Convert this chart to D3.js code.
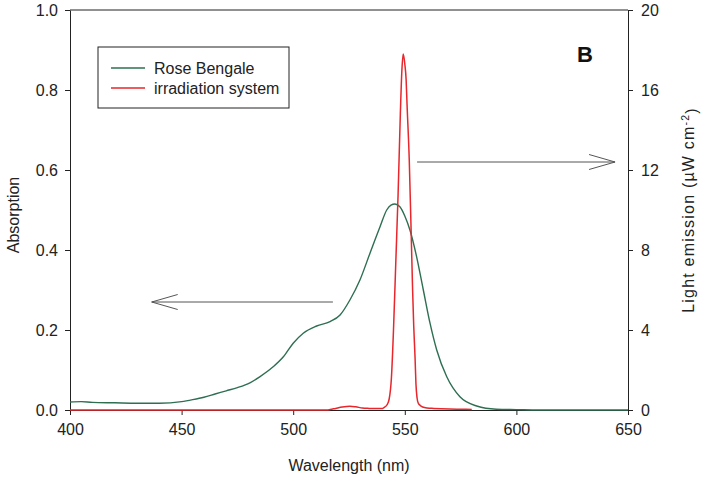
<!DOCTYPE html>
<html>
<head>
<meta charset="utf-8">
<script src="https://cdn.jsdelivr.net/npm/d3@7/dist/d3.min.js"></script>
<style>
  html, body { margin: 0; padding: 0; background: #ffffff; }
  svg { display: block; font-family: "Liberation Sans", Arial, sans-serif; }
</style>
</head>
<body>
<svg id="chart" width="703" height="480"></svg>
<script>
// ---- Data ----
const xTicks = [400, 450, 500, 550, 600, 650];
const leftTicks = [0, 0.2, 0.4, 0.6, 0.8, 1.0];
const rightTicks = [0, 4, 8, 12, 16, 20];

// Rose Bengale absorption (left axis)
const roseWl  = [400, 405, 410, 420, 430, 440, 450, 455, 460, 465, 470, 475, 480.6, 485, 491, 495.6, 500, 504.5, 510.5, 516.5, 521, 525.4, 529.9, 534.4, 538.9, 541.9, 543.8, 545.6, 547.8, 550, 552.3, 555.3, 558.3, 561.3, 564.3, 568.8, 574.7, 582.2, 591, 600, 610, 620, 630, 640, 650];
const roseAbs = [0.020, 0.021, 0.019, 0.018, 0.017, 0.017, 0.021, 0.026, 0.032, 0.040, 0.048, 0.056, 0.068, 0.083, 0.108, 0.133, 0.167, 0.192, 0.210, 0.221, 0.2375, 0.275, 0.325, 0.392, 0.458, 0.500, 0.512, 0.515, 0.508, 0.485, 0.450, 0.383, 0.300, 0.217, 0.150, 0.083, 0.033, 0.010, 0.002, 0.001, 0.000, 0.000, 0.000, 0.000, 0.000];

// Irradiation system emission (right axis, µW cm-2)
const lampWl  = [400, 450, 500, 515, 516.5, 519, 522, 525.4, 528, 531, 534, 537, 539, 540, 541, 542, 543, 544, 545, 546, 547, 548, 548.7, 549.3, 550, 550.6, 551, 552, 553, 553.5, 554, 554.6, 555, 555.5, 556, 557, 558, 560, 563, 570, 575, 580];
const lampEm  = [0, 0, 0, 0, 0.02, 0.08, 0.15, 0.19, 0.16, 0.10, 0.08, 0.07, 0.07, 0.08, 0.15, 0.25, 0.55, 1.6, 4.2, 7.5, 10.8, 14.8, 17.0, 17.8, 17.3, 16.5, 15.3, 12.5, 8.2, 6.0, 4.2, 2.6, 1.3, 0.6, 0.35, 0.22, 0.15, 0.10, 0.08, 0.05, 0.04, 0.03];

const seriesNames = ["Rose Bengale", "irradiation system"];
const seriesColors = ["#2e6f52", "#e8262b"];

// Annotation arrows (data coordinates)
const leftArrow  = { from: 517.8, to: 436.6, value: 0.27 };   // on absorption axis
const rightArrow = { from: 555.5, to: 644.2, value: 12.4 };   // on emission axis

// ---- Layout ----
const margin = { left: 70, right: 75, top: 10, bottom: 70 };
const W = 703, H = 480;
const svg = d3.select("#chart");

const x = d3.scaleLinear().domain([400, 650]).range([margin.left, W - margin.right]);
const yL = d3.scaleLinear().domain([0, 1]).range([H - margin.bottom, margin.top]);
const yR = d3.scaleLinear().domain([0, 20]).range([H - margin.bottom, margin.top]);

const axisColor = "#222";
const fontSize = "16px";

// Frame (top line)
svg.append("line")
  .attr("x1", x(400)).attr("x2", x(650))
  .attr("y1", yL(1)).attr("y2", yL(1))
  .attr("stroke", axisColor).attr("stroke-width", 1);

// Axes
function styleAxis(g) {
  g.select(".domain").attr("stroke", axisColor).attr("stroke-width", 1);
  g.selectAll(".tick line").attr("stroke", axisColor);
  g.selectAll(".tick text").attr("fill", "#222").style("font-size", fontSize)
    .style("font-family", '"Liberation Sans", Arial, sans-serif');
}

const gx = svg.append("g")
  .attr("transform", `translate(0,${yL(0)})`)
  .call(d3.axisBottom(x).tickValues(xTicks).tickSize(5).tickPadding(9).tickSizeOuter(0).tickFormat(d3.format("d")));
styleAxis(gx);

const gl = svg.append("g")
  .attr("transform", `translate(${x(400)},0)`)
  .call(d3.axisLeft(yL).tickValues(leftTicks).tickSize(5).tickPadding(7).tickSizeOuter(0).tickFormat(d3.format(".1f")));
styleAxis(gl);

const gr = svg.append("g")
  .attr("transform", `translate(${x(650)},0)`)
  .call(d3.axisRight(yR).tickValues(rightTicks).tickSize(5).tickPadding(8).tickSizeOuter(0).tickFormat(d3.format("d")));
styleAxis(gr);

// Lines
const roseData = roseWl.map((w, i) => [w, roseAbs[i]]);
const lampData = lampWl.map((w, i) => [w, lampEm[i]]);

const lineL = d3.line().x(d => x(d[0])).y(d => yL(d[1])).curve(d3.curveMonotoneX);
const lineR = d3.line().x(d => x(d[0])).y(d => yR(d[1])).curve(d3.curveMonotoneX);

svg.append("path").datum(roseData)
  .attr("d", lineL).attr("fill", "none")
  .attr("stroke", seriesColors[0]).attr("stroke-width", 1.4);

svg.append("path").datum(lampData)
  .attr("d", lineR).attr("fill", "none")
  .attr("stroke", seriesColors[1]).attr("stroke-width", 1.5);

// Arrows
const arrowColor = "#555";
function drawArrow(x1, x2, y, dir) {
  svg.append("line").attr("x1", x1).attr("x2", x2).attr("y1", y).attr("y2", y)
    .attr("stroke", arrowColor).attr("stroke-width", 1);
  const back = x2 - dir * 26;
  svg.append("path")
    .attr("d", `M${back},${y - 7.5} L${x2},${y} L${back},${y + 7.5}`)
    .attr("fill", "none").attr("stroke", arrowColor).attr("stroke-width", 1);
}
drawArrow(x(leftArrow.from), x(leftArrow.to), yL(leftArrow.value), -1);
drawArrow(x(rightArrow.from), x(rightArrow.to), yR(rightArrow.value), 1);

// Legend
const lg = svg.append("g");
lg.append("rect").attr("x", 98).attr("y", 47).attr("width", 191).attr("height", 61)
  .attr("fill", "#fff").attr("stroke", "#222").attr("stroke-width", 1);
seriesNames.forEach((name, i) => {
  const yy = 68 + i * 20;
  lg.append("line").attr("x1", 111).attr("x2", 145).attr("y1", yy).attr("y2", yy)
    .attr("stroke", seriesColors[i]).attr("stroke-width", 1.4);
  lg.append("text").attr("x", 154).attr("y", yy + 5.5).text(name)
    .attr("fill", "#222").style("font-size", fontSize);
});

// Panel label
svg.append("text").attr("x", 585).attr("y", 62).attr("text-anchor", "middle")
  .text("B").attr("fill", "#111").style("font-size", "22px").style("font-weight", "bold");

// Axis titles
svg.append("text").attr("x", x(525)).attr("y", 471).attr("text-anchor", "middle")
  .text("Wavelength (nm)").attr("fill", "#222").style("font-size", fontSize);

svg.append("text").attr("transform", `translate(19,${(yL(0) + yL(1)) / 2 + 5}) rotate(-90)`)
  .attr("text-anchor", "middle").text("Absorption").attr("fill", "#222").style("font-size", fontSize);

const rt = svg.append("text").attr("transform", `translate(694,${(yR(0) + yR(20)) / 2}) rotate(-90)`)
  .attr("text-anchor", "middle").attr("fill", "#222").style("font-size", fontSize)
  .style("letter-spacing", "1.2px");
rt.append("tspan").text("Light emission (µW cm");
rt.append("tspan").text("-2").attr("dy", "-0.5em").style("font-size", "10.5px");
rt.append("tspan").text(")").attr("dy", "0.5em");
</script>
</body>
</html>
